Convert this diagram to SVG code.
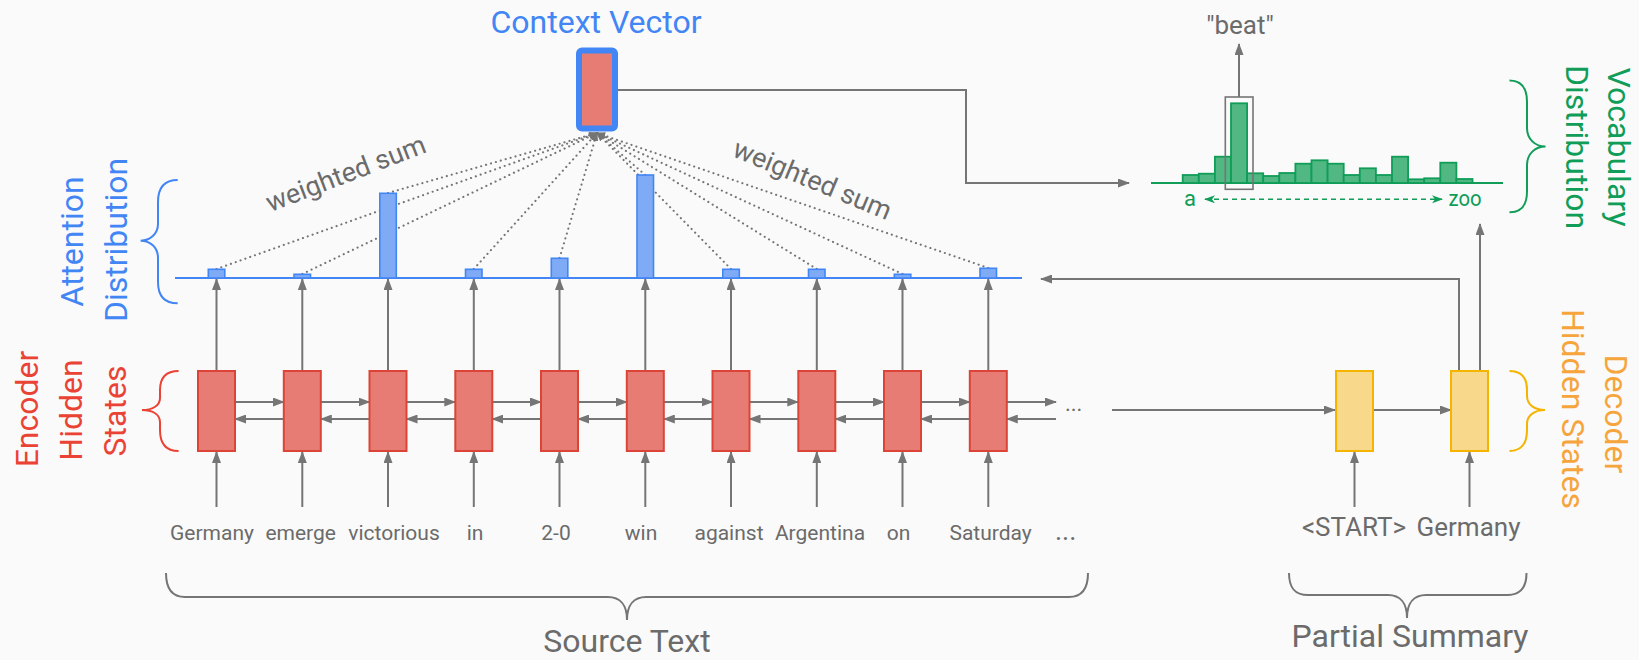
<svg xmlns="http://www.w3.org/2000/svg" width="1639" height="660" viewBox="0 0 1639 660">
<style>
.bg{fill:#fafafa}
.enc{fill:#e67c73;stroke:#db4437;stroke-width:2}
.dec{fill:#f8d98b;stroke:#f4b400;stroke-width:2}
.abar{fill:#7fabf6;stroke:#4285f4;stroke-width:1.6}
.vbar{fill:#52b883;stroke:#0f9d58;stroke-width:1.8}
.ln{fill:none;stroke:#757575;stroke-width:2}
.arr{fill:none;stroke:#757575;stroke-width:2;marker-end:url(#ah)}
.dot{fill:none;stroke:#757575;stroke-width:2.1;stroke-linecap:round;stroke-dasharray:0.1 5;marker-end:url(#ahs)}
.brace{fill:none;stroke-width:2}
text{font-family:Roboto,"Liberation Sans",sans-serif}
.w{font-size:21px;fill:#6b6b6b;text-anchor:middle}
.big{font-size:32px;text-anchor:middle}
.gray{fill:#6b6b6b}
</style>
<defs>
<marker id="ah" markerUnits="userSpaceOnUse" markerWidth="12" markerHeight="9" refX="11" refY="4.5" orient="auto"><path d="M0,0 L12,4.5 L0,9 z" fill="#757575"/></marker>
<marker id="ahs" markerUnits="userSpaceOnUse" markerWidth="9" markerHeight="7" refX="8" refY="3.5" orient="auto"><path d="M0,0 L9,3.5 L0,7 z" fill="#757575"/></marker>
<marker id="ahg" markerUnits="userSpaceOnUse" markerWidth="11" markerHeight="8" refX="10" refY="4" orient="auto-start-reverse"><path d="M0,0 L11,4 L0,8 L3,4 z" fill="#0f9d58"/></marker>
</defs>
<rect class="bg" x="0" y="0" width="1639" height="660"/>

<g id="connectors">
  <!-- encoder input arrows -->
  <line class="arr" x1="216.5" y1="507" x2="216.5" y2="452"/>
  <line class="arr" x1="302.3" y1="507" x2="302.3" y2="452"/>
  <line class="arr" x1="388" y1="507" x2="388" y2="452"/>
  <line class="arr" x1="473.8" y1="507" x2="473.8" y2="452"/>
  <line class="arr" x1="559.5" y1="507" x2="559.5" y2="452"/>
  <line class="arr" x1="645.3" y1="507" x2="645.3" y2="452"/>
  <line class="arr" x1="731" y1="507" x2="731" y2="452"/>
  <line class="arr" x1="816.8" y1="507" x2="816.8" y2="452"/>
  <line class="arr" x1="902.5" y1="507" x2="902.5" y2="452"/>
  <line class="arr" x1="988.3" y1="507" x2="988.3" y2="452"/>
  <!-- encoder to attention arrows -->
  <line class="arr" x1="216.5" y1="370" x2="216.5" y2="279"/>
  <line class="arr" x1="302.3" y1="370" x2="302.3" y2="279"/>
  <line class="arr" x1="388" y1="370" x2="388" y2="279"/>
  <line class="arr" x1="473.8" y1="370" x2="473.8" y2="279"/>
  <line class="arr" x1="559.5" y1="370" x2="559.5" y2="279"/>
  <line class="arr" x1="645.3" y1="370" x2="645.3" y2="279"/>
  <line class="arr" x1="731" y1="370" x2="731" y2="279"/>
  <line class="arr" x1="816.8" y1="370" x2="816.8" y2="279"/>
  <line class="arr" x1="902.5" y1="370" x2="902.5" y2="279"/>
  <line class="arr" x1="988.3" y1="370" x2="988.3" y2="279"/>
  <!-- forward arrows -->
  <line class="arr" x1="235" y1="402" x2="283.8" y2="402"/>
  <line class="arr" x1="320.8" y1="402" x2="369.5" y2="402"/>
  <line class="arr" x1="406.5" y1="402" x2="455.3" y2="402"/>
  <line class="arr" x1="492.3" y1="402" x2="541" y2="402"/>
  <line class="arr" x1="578" y1="402" x2="626.8" y2="402"/>
  <line class="arr" x1="663.8" y1="402" x2="712.5" y2="402"/>
  <line class="arr" x1="749.5" y1="402" x2="798.3" y2="402"/>
  <line class="arr" x1="835.3" y1="402" x2="884" y2="402"/>
  <line class="arr" x1="921" y1="402" x2="969.8" y2="402"/>
  <line class="arr" x1="1006.8" y1="402" x2="1056" y2="402"/>
  <!-- backward arrows -->
  <line class="arr" x1="283.8" y1="419" x2="235" y2="419"/>
  <line class="arr" x1="369.5" y1="419" x2="320.8" y2="419"/>
  <line class="arr" x1="455.3" y1="419" x2="406.5" y2="419"/>
  <line class="arr" x1="541" y1="419" x2="492.3" y2="419"/>
  <line class="arr" x1="626.8" y1="419" x2="578" y2="419"/>
  <line class="arr" x1="712.5" y1="419" x2="663.8" y2="419"/>
  <line class="arr" x1="798.3" y1="419" x2="749.5" y2="419"/>
  <line class="arr" x1="884" y1="419" x2="835.3" y2="419"/>
  <line class="arr" x1="969.8" y1="419" x2="921" y2="419"/>
  <line class="arr" x1="1056" y1="419" x2="1006.8" y2="419"/>
  <!-- encoder to decoder -->
  <line class="arr" x1="1112" y1="410" x2="1335" y2="410"/>
  <line class="arr" x1="1373.5" y1="410" x2="1451" y2="410"/>
  <line class="arr" x1="1354.5" y1="507" x2="1354.5" y2="452"/>
  <line class="arr" x1="1469.5" y1="507" x2="1469.5" y2="452"/>
  <polyline class="arr" points="1459,371 1459,279 1041,279"/>
  <line class="arr" x1="1480" y1="371" x2="1480" y2="224"/>
  <!-- context vector to vocabulary -->
  <polyline class="arr" points="618,90 966,90 966,183 1129,183"/>
  <!-- beat -->
  <line class="arr" x1="1239" y1="97" x2="1239" y2="44"/>
  <!-- dotted weighted sum lines -->
  <line class="dot" x1="216.5" y1="269" x2="597" y2="133"/>
  <line class="dot" x1="302.3" y1="274" x2="597" y2="133"/>
  <line class="dot" x1="388" y1="193" x2="597" y2="133"/>
  <line class="dot" x1="473.8" y1="269" x2="597" y2="133"/>
  <line class="dot" x1="559.5" y1="258" x2="597" y2="133"/>
  <line class="dot" x1="645.3" y1="175" x2="597" y2="133"/>
  <line class="dot" x1="731" y1="269" x2="597" y2="133"/>
  <line class="dot" x1="816.8" y1="269" x2="597" y2="133"/>
  <line class="dot" x1="902.5" y1="274" x2="597" y2="133"/>
  <line class="dot" x1="988.3" y1="268" x2="597" y2="133"/>
  <text class="gray" x="1065" y="411" style="font-size:22px">...</text>
</g>

<g id="encoder-label">
  <text class="big" transform="translate(38,409) rotate(-90)" fill="#ea4335">Encoder</text>
  <text class="big" transform="translate(82,410) rotate(-90)" fill="#ea4335">Hidden</text>
  <text class="big" transform="translate(126,411) rotate(-90)" fill="#ea4335">States</text>
  <path class="brace" stroke="#ea4335" d="M178.6 371 C165 371,160 378,160 390 L160 398 C160 406,152 410,142 410 C152 410,160 414,160 422 L160 430 C160 443,165 451,178.6 451"/>
</g>

<g id="attention-label">
  <text class="big" transform="translate(82.5,241.5) rotate(-90)" fill="#4285f4">Attention</text>
  <text class="big" transform="translate(127,240) rotate(-90)" fill="#4285f4">Distribution</text>
  <path class="brace" stroke="#4285f4" d="M177.7 180 C164 180,158 188,158 202 L158 224 C158 234,150 240.7,140.6 240.7 C150 240.7,158 247,158 258 L158 282 C158 296,164 303.3,177.7 303.3"/>
</g>

<g id="encoder-states">
  <rect class="enc" x="198" y="371" width="37" height="80"/>
  <rect class="enc" x="283.8" y="371" width="37" height="80"/>
  <rect class="enc" x="369.5" y="371" width="37" height="80"/>
  <rect class="enc" x="455.3" y="371" width="37" height="80"/>
  <rect class="enc" x="541" y="371" width="37" height="80"/>
  <rect class="enc" x="626.8" y="371" width="37" height="80"/>
  <rect class="enc" x="712.5" y="371" width="37" height="80"/>
  <rect class="enc" x="798.3" y="371" width="37" height="80"/>
  <rect class="enc" x="884" y="371" width="37" height="80"/>
  <rect class="enc" x="969.8" y="371" width="37" height="80"/>
</g>

<g id="attention-distribution">
  <line x1="175" y1="278" x2="1022" y2="278" stroke="#4285f4" stroke-width="2"/>
  <rect class="abar" x="208.3" y="269.3" width="16.5" height="8.7"/>
  <rect class="abar" x="294" y="274.3" width="16.5" height="3.7"/>
  <rect class="abar" x="379.8" y="193.3" width="16.5" height="84.7"/>
  <rect class="abar" x="465.5" y="269.3" width="16.5" height="8.7"/>
  <rect class="abar" x="551.3" y="258.3" width="16.5" height="19.7"/>
  <rect class="abar" x="637" y="175" width="16.5" height="103"/>
  <rect class="abar" x="722.8" y="269.3" width="16.5" height="8.7"/>
  <rect class="abar" x="808.5" y="269.3" width="16.5" height="8.7"/>
  <rect class="abar" x="894.3" y="274.3" width="16.5" height="3.7"/>
  <rect class="abar" x="980" y="268.3" width="16.5" height="9.7"/>
  <text class="gray" transform="translate(349,182) rotate(-21)" style="font-size:27px;text-anchor:middle">weighted sum</text>
  <text class="gray" transform="translate(809,188) rotate(22.5)" style="font-size:27px;text-anchor:middle">weighted sum</text>
</g>

<g id="context-vector">
  <rect x="579" y="50.5" width="36" height="78" rx="3" fill="#e67c73" stroke="#4285f4" stroke-width="6"/>
  <text class="big" x="596" y="33" fill="#4285f4">Context Vector</text>
</g>

<g id="vocabulary-distribution">
  <line x1="1151" y1="183" x2="1503" y2="183" stroke="#0f9d58" stroke-width="2"/>
  <rect class="vbar" x="1182.7" y="175" width="16.1" height="8"/>
  <rect class="vbar" x="1198.8" y="173.7" width="16.1" height="9.3"/>
  <rect class="vbar" x="1214.9" y="156.7" width="16.1" height="26.3"/>
  <rect class="vbar" x="1231" y="103.3" width="16.1" height="79.7"/>
  <rect class="vbar" x="1247.1" y="173.3" width="16.1" height="9.7"/>
  <rect class="vbar" x="1263.2" y="176" width="16.1" height="7"/>
  <rect class="vbar" x="1279.3" y="173" width="16.1" height="10"/>
  <rect class="vbar" x="1295.4" y="163.7" width="16.1" height="19.3"/>
  <rect class="vbar" x="1311.5" y="160.3" width="16.1" height="22.7"/>
  <rect class="vbar" x="1327.6" y="163.7" width="16.1" height="19.3"/>
  <rect class="vbar" x="1343.7" y="175" width="16.1" height="8"/>
  <rect class="vbar" x="1359.8" y="168.3" width="16.1" height="14.7"/>
  <rect class="vbar" x="1375.9" y="175" width="16.1" height="8"/>
  <rect class="vbar" x="1392" y="156.7" width="16.1" height="26.3"/>
  <rect class="vbar" x="1408.1" y="179.3" width="16.1" height="3.7"/>
  <rect class="vbar" x="1424.2" y="178.3" width="16.1" height="4.7"/>
  <rect class="vbar" x="1440.3" y="162.7" width="16.1" height="20.3"/>
  <rect class="vbar" x="1456.4" y="179" width="16.1" height="4"/>
  <rect x="1225.3" y="97" width="27.7" height="92.3" fill="none" stroke="#757575" stroke-width="1.6"/>
  <line x1="1205" y1="199.3" x2="1442" y2="199.3" stroke="#0f9d58" stroke-width="1.6" stroke-dasharray="5 4" marker-start="url(#ahg)" marker-end="url(#ahg)"/>
  <text x="1190" y="205.5" style="font-size:22px;text-anchor:middle" fill="#0f9d58">a</text>
  <text x="1465" y="205.5" style="font-size:22px;text-anchor:middle" fill="#0f9d58" textLength="33" lengthAdjust="spacingAndGlyphs">zoo</text>
  <text class="gray" x="1240" y="34" style="font-size:26px;text-anchor:middle">"beat"</text>
  <text class="big" transform="translate(1608,147) rotate(90)" fill="#0f9d58">Vocabulary</text>
  <text class="big" transform="translate(1566,147) rotate(90)" fill="#0f9d58">Distribution</text>
  <path class="brace" stroke="#0f9d58" d="M1509.5 80.5 C1522 80.5,1527 88,1527 102 L1527 128 C1527 139,1535 146.5,1545.5 146.5 C1535 146.5,1527 154,1527 165 L1527 191 C1527 205,1522 212.3,1509.5 212.3"/>
</g>

<g id="decoder-states">
  <rect class="dec" x="1336" y="371" width="37" height="80"/>
  <rect class="dec" x="1451" y="371" width="37" height="80"/>
  <text class="big" transform="translate(1605,414) rotate(90)" fill="#f6a53c">Decoder</text>
  <text class="big" transform="translate(1562,409) rotate(90)" fill="#f6a53c">Hidden States</text>
  <path class="brace" stroke="#f4b400" d="M1509.5 371 C1522 371,1527 378,1527 390 L1527 396 C1527 405,1535 410,1545 410 C1535 410,1527 415,1527 424 L1527 430 C1527 443,1522 451,1509.5 451"/>
</g>

<g id="source-text">
  <text class="w" x="212" y="540">Germany</text>
  <text class="w" x="300.7" y="540">emerge</text>
  <text class="w" x="394" y="540">victorious</text>
  <text class="w" x="475" y="540">in</text>
  <text class="w" x="556" y="540">2-0</text>
  <text class="w" x="641" y="540">win</text>
  <text class="w" x="729" y="540">against</text>
  <text class="w" x="820" y="540">Argentina</text>
  <text class="w" x="898.6" y="540">on</text>
  <text class="w" x="990.6" y="540">Saturday</text>
  <text class="gray" x="1055" y="540" style="font-size:27px">...</text>
  <path class="ln" d="M166 573 C166 588,171 597,185 597 L608 597 C620 597,627 605,627 620 C627 605,634 597,646 597 L1069 597 C1083 597,1088 588,1088 573"/>
  <text class="big gray" x="627" y="652">Source Text</text>
</g>

<g id="partial-summary">
  <text class="gray" x="1354" y="536" style="font-size:26px;text-anchor:middle">&lt;START&gt;</text>
  <text class="gray" x="1468.5" y="536" style="font-size:26px;text-anchor:middle">Germany</text>
  <path class="ln" d="M1289 573 C1289 587,1294 595,1308 595 L1388 595 C1400 595,1407 603,1407 618 C1407 603,1414 595,1426 595 L1507.5 595 C1521 595,1526.5 587,1526.5 573"/>
  <text class="big gray" x="1410" y="647">Partial Summary</text>
</g>
</svg>
